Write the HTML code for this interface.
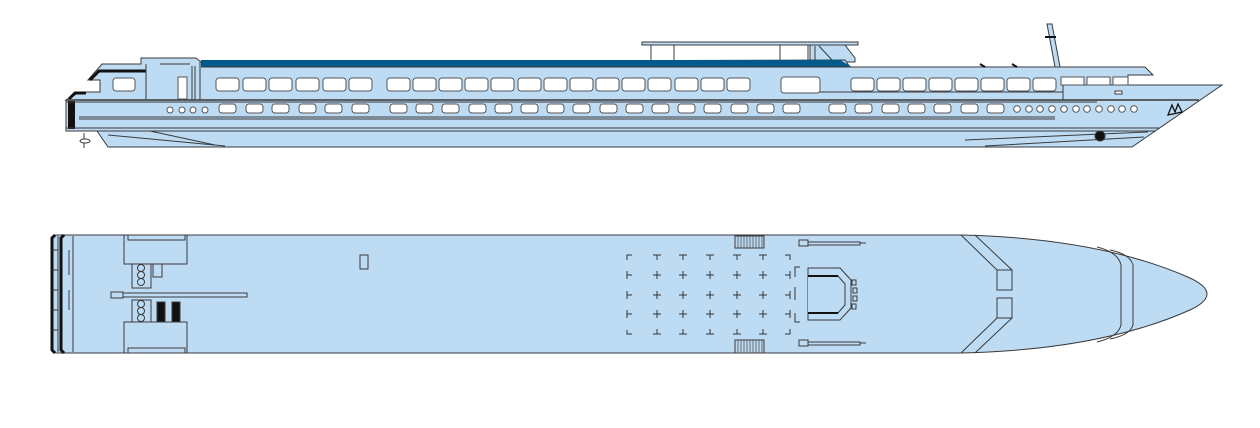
<!DOCTYPE html>
<html><head><meta charset="utf-8"><style>
html,body{margin:0;padding:0;background:#fff;}
svg{display:block;}
</style></head><body>
<svg width="1260" height="428" viewBox="0 0 1260 428" xmlns="http://www.w3.org/2000/svg">
<g stroke="#3a3a3a" stroke-width="1" fill="#bddcf4">
<!-- SIDE VIEW -->
<rect x="651" y="45" width="190" height="17" fill="#fff"/>
<line x1="674" y1="45" x2="674" y2="62"/><line x1="780" y1="45" x2="780" y2="62"/><line x1="808" y1="45" x2="808" y2="62"/>
<path d="M810,45 L845,45 L855,58 L855,62 L810,62 Z"/>
<line x1="815" y1="46" x2="815" y2="60"/><line x1="819" y1="46" x2="832" y2="60"/>
<rect x="642" y="42" width="216" height="3"/>
<path d="M1047,24 L1052,24 L1060,67 L1055,67 Z"/>
<line x1="1045" y1="37" x2="1056" y2="37" stroke-width="2" stroke="#111"/>
<path d="M88,80 L102,64 L141,64 L141,58 L196,58 L201,62 L845,60 L850,67 L1145,67 L1153,75 L1128,75 L1128,85 L1063,85 L1063,100 L66,100 L80,92 L100,92 L100,80 Z"/>
<path d="M201,60 L840,60 L852,67 L201,67 Z" fill="#005a8c" stroke="none"/>
<line x1="201" y1="67" x2="1145" y2="67"/>
<line x1="980" y1="64" x2="985" y2="67" stroke-width="2" stroke="#111"/>
<line x1="1012" y1="64" x2="1017" y2="67" stroke-width="2" stroke="#111"/>
<path d="M90,80 L99,71 L146,71" fill="none" stroke="#111" stroke-width="3"/>
<path d="M69,99 L75,93 L86,93" fill="none" stroke="#111" stroke-width="3"/>
<line x1="146" y1="64" x2="146" y2="100"/>
<line x1="200" y1="62" x2="200" y2="100"/>
<line x1="192" y1="66" x2="192" y2="120"/>
<line x1="195" y1="66" x2="195" y2="120"/>
<line x1="160" y1="64" x2="190" y2="64"/>
<line x1="820" y1="92" x2="1063" y2="92"/>
<path d="M66,100 L1063,100 L1063,85 L1222,85 L1132,147 L108,147 L97,131 L66,131 Z"/>
<rect x="68" y="101" width="7" height="28" fill="#111" stroke="none"/>
<line x1="66" y1="100" x2="1199" y2="100" stroke-width="1.5"/>
<line x1="66" y1="102" x2="1097" y2="102"/>
<line x1="79" y1="117" x2="1055" y2="117"/>
<line x1="79" y1="119" x2="1055" y2="119"/>
<line x1="66" y1="128" x2="1160" y2="128"/>
<line x1="66" y1="131" x2="1156" y2="131"/>
<line x1="108" y1="135" x2="225" y2="146"/>
<line x1="150" y1="131" x2="215" y2="145"/>
<line x1="965" y1="140" x2="1148" y2="132"/>
<line x1="985" y1="146" x2="1144" y2="137"/>
<circle cx="1100" cy="136" r="5" fill="#111"/>
<rect x="1115" y="91" width="7" height="3" fill="#fff"/>
<path d="M1168,115 L1172,105 L1175,112 L1178,104 L1182,112 Z" fill="none" stroke="#111" stroke-width="1.3"/>
<line x1="84" y1="133" x2="84" y2="148"/>
<ellipse cx="85" cy="141" rx="5" ry="2" fill="#fff"/>
<g fill="#fff" stroke="#555">
<rect x="113" y="78" width="22" height="13" rx="3"/>
<rect x="178" y="77" width="9" height="22" rx="0"/>
<rect x="216" y="78" width="23" height="13" rx="3"/><rect x="243" y="78" width="23" height="13" rx="3"/><rect x="269" y="78" width="23" height="13" rx="3"/><rect x="296" y="78" width="23" height="13" rx="3"/><rect x="323" y="78" width="23" height="13" rx="3"/><rect x="349" y="78" width="23" height="13" rx="3"/>
<rect x="387" y="78" width="23" height="13" rx="3"/><rect x="413" y="78" width="23" height="13" rx="3"/><rect x="439" y="78" width="23" height="13" rx="3"/><rect x="465" y="78" width="23" height="13" rx="3"/><rect x="491" y="78" width="23" height="13" rx="3"/><rect x="518" y="78" width="23" height="13" rx="3"/><rect x="544" y="78" width="23" height="13" rx="3"/><rect x="570" y="78" width="23" height="13" rx="3"/><rect x="596" y="78" width="23" height="13" rx="3"/><rect x="622" y="78" width="23" height="13" rx="3"/><rect x="648" y="78" width="23" height="13" rx="3"/><rect x="675" y="78" width="23" height="13" rx="3"/><rect x="701" y="78" width="23" height="13" rx="3"/><rect x="727" y="78" width="23" height="13" rx="3"/>
<rect x="781" y="77" width="39" height="16" rx="3"/>
<rect x="851" y="78" width="23" height="13" rx="3"/><rect x="877" y="78" width="23" height="13" rx="3"/><rect x="903" y="78" width="23" height="13" rx="3"/><rect x="929" y="78" width="23" height="13" rx="3"/><rect x="955" y="78" width="23" height="13" rx="3"/><rect x="981" y="78" width="23" height="13" rx="3"/><rect x="1007" y="78" width="23" height="13" rx="3"/><rect x="1033" y="78" width="23" height="13" rx="3"/>
<rect x="1061" y="77" width="23" height="8"/><rect x="1087" y="77" width="23" height="8"/><rect x="1113" y="77" width="15" height="8"/>
<rect x="219" y="104" width="17" height="9" rx="3"/><rect x="246" y="104" width="17" height="9" rx="3"/><rect x="272" y="104" width="17" height="9" rx="3"/><rect x="299" y="104" width="17" height="9" rx="3"/><rect x="325" y="104" width="17" height="9" rx="3"/><rect x="352" y="104" width="17" height="9" rx="3"/>
<rect x="390" y="104" width="17" height="9" rx="3"/><rect x="416" y="104" width="17" height="9" rx="3"/><rect x="442" y="104" width="17" height="9" rx="3"/><rect x="469" y="104" width="17" height="9" rx="3"/><rect x="495" y="104" width="17" height="9" rx="3"/><rect x="521" y="104" width="17" height="9" rx="3"/><rect x="547" y="104" width="17" height="9" rx="3"/><rect x="573" y="104" width="17" height="9" rx="3"/><rect x="600" y="104" width="17" height="9" rx="3"/><rect x="626" y="104" width="17" height="9" rx="3"/><rect x="652" y="104" width="17" height="9" rx="3"/><rect x="678" y="104" width="17" height="9" rx="3"/><rect x="704" y="104" width="17" height="9" rx="3"/><rect x="731" y="104" width="17" height="9" rx="3"/><rect x="757" y="104" width="17" height="9" rx="3"/><rect x="783" y="104" width="17" height="9" rx="3"/>
<rect x="829" y="104" width="17" height="9" rx="3"/><rect x="855" y="104" width="17" height="9" rx="3"/><rect x="882" y="104" width="17" height="9" rx="3"/><rect x="908" y="104" width="17" height="9" rx="3"/><rect x="934" y="104" width="17" height="9" rx="3"/><rect x="961" y="104" width="17" height="9" rx="3"/><rect x="987" y="104" width="17" height="9" rx="3"/>
<circle cx="170" cy="110" r="3"/><circle cx="182" cy="110" r="3"/><circle cx="193" cy="110" r="3"/><circle cx="205" cy="110" r="3"/>
<circle cx="1017" cy="109" r="3.3"/><circle cx="1029" cy="109" r="3.3"/><circle cx="1040" cy="109" r="3.3"/><circle cx="1052" cy="109" r="3.3"/><circle cx="1064" cy="109" r="3.3"/><circle cx="1076" cy="109" r="3.3"/><circle cx="1087" cy="109" r="3.3"/><circle cx="1099" cy="109" r="3.3"/><circle cx="1111" cy="109" r="3.3"/><circle cx="1122" cy="109" r="3.3"/><circle cx="1134" cy="109" r="3.3"/>
</g>

<!-- TOP VIEW -->
<path d="M52,239 Q52,235 57,235 L960,235 Q1100,238 1190,278 Q1207,286 1207,294 Q1207,302 1190,310 Q1100,350 960,353 L57,353 Q52,353 52,349 Z"/>
<path d="M55,235 L52,238 L52,350 L55,353" fill="none" stroke="#111" stroke-width="3"/>
<path d="M64,235 L61,238 L61,350 L64,353" fill="none" stroke="#111" stroke-width="3"/>
<line x1="58" y1="236" x2="58" y2="352"/><line x1="73" y1="236" x2="73" y2="352"/>
<line x1="52" y1="250" x2="58" y2="250"/><line x1="52" y1="270" x2="58" y2="270"/><line x1="52" y1="290" x2="58" y2="290"/><line x1="52" y1="310" x2="58" y2="310"/><line x1="52" y1="330" x2="58" y2="330"/>
<line x1="69" y1="250" x2="69" y2="275"/><line x1="69" y1="290" x2="69" y2="310"/>
<rect x="124" y="235" width="63" height="29"/>
<rect x="128" y="235" width="57" height="5"/>
<rect x="132" y="264" width="19" height="24"/>
<circle cx="141" cy="268" r="3.5"/><circle cx="141" cy="275" r="3.5"/><circle cx="141" cy="282" r="3.5"/>
<rect x="153" y="264" width="9" height="13"/>
<rect x="111" y="292" width="12" height="6"/>
<rect x="123" y="293" width="124" height="4"/>
<rect x="132" y="300" width="19" height="22"/>
<circle cx="141" cy="304" r="3.5"/><circle cx="141" cy="311" r="3.5"/><circle cx="141" cy="318" r="3.5"/>
<rect x="157" y="302" width="8" height="21" fill="#111"/>
<rect x="172" y="302" width="8" height="21" fill="#111"/>
<rect x="124" y="322" width="63" height="31"/>
<rect x="128" y="348" width="57" height="5"/>
<rect x="360" y="255" width="8" height="14"/>
<rect x="735" y="236" width="29" height="12"/>
<rect x="735" y="340" width="29" height="13"/>
<g stroke="#555" stroke-width="0.8">
<line x1="738" y1="236" x2="738" y2="248"/><line x1="741" y1="236" x2="741" y2="248"/><line x1="744" y1="236" x2="744" y2="248"/><line x1="747" y1="236" x2="747" y2="248"/><line x1="750" y1="236" x2="750" y2="248"/><line x1="753" y1="236" x2="753" y2="248"/><line x1="756" y1="236" x2="756" y2="248"/><line x1="759" y1="236" x2="759" y2="248"/><line x1="762" y1="236" x2="762" y2="248"/>
<line x1="738" y1="340" x2="738" y2="353"/><line x1="741" y1="340" x2="741" y2="353"/><line x1="744" y1="340" x2="744" y2="353"/><line x1="747" y1="340" x2="747" y2="353"/><line x1="750" y1="340" x2="750" y2="353"/><line x1="753" y1="340" x2="753" y2="353"/><line x1="756" y1="340" x2="756" y2="353"/><line x1="759" y1="340" x2="759" y2="353"/><line x1="762" y1="340" x2="762" y2="353"/>
</g>
<rect x="799" y="240" width="9" height="6"/><rect x="808" y="242" width="52" height="3"/><line x1="860" y1="243" x2="866" y2="243"/>
<rect x="799" y="340" width="9" height="6"/><rect x="808" y="342" width="52" height="3"/><line x1="860" y1="343" x2="866" y2="343"/>
<g fill="none" stroke="#333">
<path d="M627,260 V255 H632"/><path d="M653,255 H661 M657,255 V260"/><path d="M679,255 H687 M683,255 V260"/><path d="M706,255 H714 M710,255 V260"/><path d="M733,255 H741 M737,255 V260"/><path d="M759,255 H767 M763,255 V260"/><path d="M785,255 H790 V260"/>
<path d="M627,330 V334 H632"/><path d="M653,334 H661 M657,334 V329"/><path d="M679,334 H687 M683,334 V329"/><path d="M706,334 H714 M710,334 V329"/><path d="M733,334 H741 M737,334 V329"/><path d="M759,334 H767 M763,334 V329"/><path d="M785,334 H790 V329"/>
<path d="M627,271 V279 M627,275 H632"/><path d="M627,291 V299 M627,295 H632"/><path d="M627,310 V318 M627,314 H632"/>
<path d="M790,271 V279 M785,275 H790"/><path d="M790,291 V299 M785,295 H790"/><path d="M790,310 V318 M785,314 H790"/>
<path d="M653,275 H661 M657,271 V279 M679,275 H687 M683,271 V279 M706,275 H714 M710,271 V279 M733,275 H741 M737,271 V279 M759,275 H767 M763,271 V279"/>
<path d="M653,295 H661 M657,291 V299 M679,295 H687 M683,291 V299 M706,295 H714 M710,291 V299 M733,295 H741 M737,291 V299 M759,295 H767 M763,291 V299"/>
<path d="M653,314 H661 M657,310 V318 M679,314 H687 M683,310 V318 M706,314 H714 M710,310 V318 M733,314 H741 M737,310 V318 M759,314 H767 M763,310 V318"/>
<path d="M800,267 H795 V277 M795,287 V300 M800,322 H795 V313"/>
</g>
<path d="M808,268 L840,268 L851,280 L851,308 L840,320 L808,320 Z"/>
<path d="M808,276 L838,276 L845,284 L845,305 L838,313 L808,313" />
<line x1="808" y1="276" x2="838" y2="276" stroke="#111" stroke-width="2"/>
<line x1="808" y1="313" x2="838" y2="313" stroke="#111" stroke-width="2"/>
<rect x="852" y="280" width="4" height="5"/><rect x="853" y="288" width="4" height="5"/><rect x="853" y="296" width="4" height="5"/><rect x="852" y="304" width="4" height="5"/>
<path d="M961,235 L997,270 M975,235 L1012,270" fill="none"/>
<rect x="997" y="270" width="15" height="20"/>
<rect x="997" y="298" width="15" height="20"/>
<path d="M961,353 L997,318 M975,353 L1012,318" fill="none"/>
<path d="M1097,247 Q1118,252 1121,265 L1121,325 Q1118,337 1097,342" fill="none"/>
<path d="M1110,250 Q1130,254 1133,265 L1133,325 Q1130,335 1110,339" fill="none"/>
</g>
</svg>
</body></html>
